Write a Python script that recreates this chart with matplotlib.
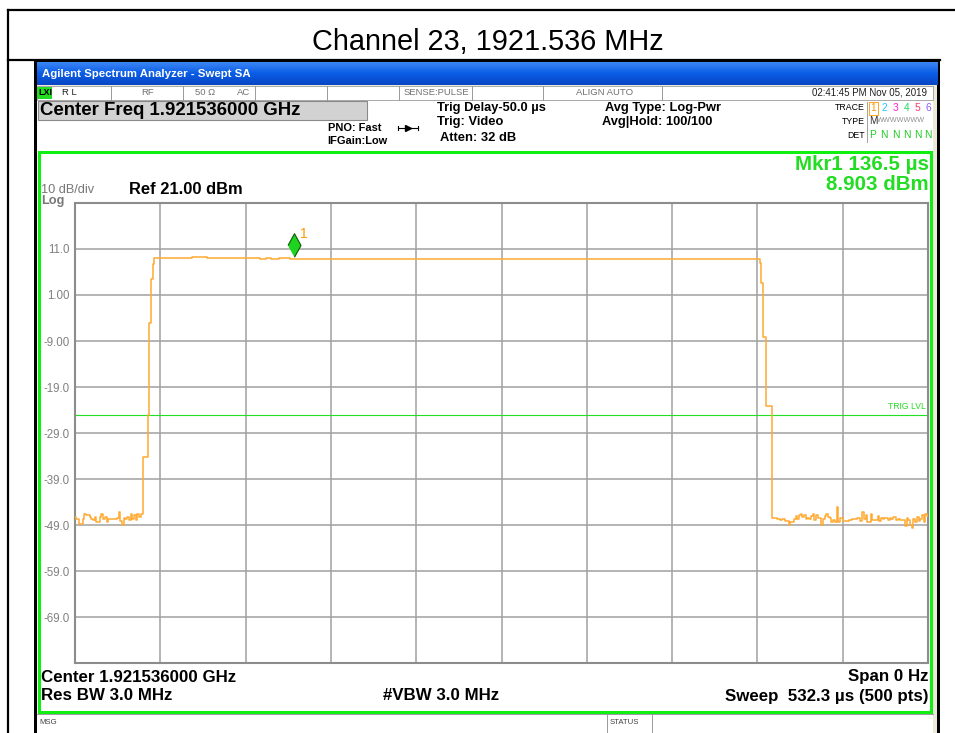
import numpy as np
import matplotlib.pyplot as plt
import matplotlib.transforms as mtransforms
from matplotlib.patches import Rectangle
from matplotlib.colors import LinearSegmentedColormap

plt.rcParams['font.family'] = ['Liberation Sans', 'DejaVu Sans']

# analyzer settings
sweep_time = 532.3      # us
n_points = 500
ref_level = 21.0
db_per_div = 10.0
trig_level = -25.1
marker_time = 136.5
marker_level = 8.903

y_tick_labels = ["", "11.0", "1.00", "-9.00", "-19.0", "-29.0", "-39.0",
                 "-49.0", "-59.0", "-69.0", ""]

# trace readings (dBm), left to right
noise_left = [-47.2, -47.7, -47.7, -48.7, -48.7, -47.6, -46.5, -46.8, -46.8, -47.2,
              -47.6, -47.9, -47.3, -48.3, -48.3, -47.2, -46.6, -47.6, -47.2, -48.3,
              -47.7, -47.7, -47.6, -47.7, -47.7, -47.4, -46.2, -48.1, -48.9, -47.4,
              -47.7, -47.2, -47.9, -46.7, -47.6, -46.8, -47.9, -46.6, -47.2, -46.5]
rise_edge = [-34.3, -34.3, -34.3, -25.0, -5.1, 4.5, 7.7]
top_runs = [(22, 9.15), (9, 9.25), (31, 9.05), (3, 8.85), (3, 9.0), (5, 8.85),
            (6, 8.95), (6, 8.9), (269, 8.75)]   # (points, level)
fall_edge = [8.0, 3.5, -8.1, -8.1, -23.1, -23.1, -23.1]
noise_right = [-47.4, -47.4, -47.4, -47.7, -47.7, -47.9, -47.7, -47.7, -48.1, -48.1,
               -48.9, -48.3, -48.3, -47.7, -47.0, -47.7, -46.8, -46.5, -47.2, -46.8,
               -47.6, -47.4, -47.7, -47.0, -46.5, -47.9, -46.8, -47.4, -47.4, -49.0,
               -47.6, -47.0, -46.7, -47.3, -47.4, -48.3, -47.9, -48.3, -45.0, -48.3,
               -47.4, -47.4, -48.1, -48.1, -48.1, -47.9, -47.9,
               -47.7, -47.7, -47.7, -47.4, -47.4, -48.1, -46.2, -47.6, -46.8, -48.3,
               -48.3, -46.5, -47.9, -47.9, -47.9, -47.0, -48.1, -47.4, -47.7, -47.4,
               -47.4, -47.9, -47.4, -47.6, -47.2, -47.2, -47.9, -47.6, -47.9, -47.9,
               -47.9, -49.2, -47.4, -47.9, -48.9, -49.6, -47.7, -48.3, -47.2, -48.1,
               -47.7, -46.8, -48.3, -46.5, -47.0]

top_flat = []
for n, lvl in top_runs:
    top_flat += [lvl] * n
trace = np.array(noise_left + rise_edge + top_flat + fall_edge + noise_right)
t = np.linspace(0, sweep_time, len(trace))

W, H = 955, 733
fig = plt.figure(figsize=(W / 100, H / 100), dpi=100)
fig.patch.set_facecolor('white')

# pixel overlay for the instrument screen
ov = fig.add_axes([0, 0, 1, 1])
ov.set_xlim(0, W)
ov.set_ylim(H, 0)
ov.axis('off')

def rect(x0, y0, x1, y1, fc='none', ec='none', lw=0, z=1):
    ov.add_patch(Rectangle((x0, y0), x1 - x0, y1 - y0, facecolor=fc,
                           edgecolor=ec, linewidth=lw, zorder=z))

def txt(x, y, s, size, ha='left', color='black', weight='normal', z=5):
    ov.text(x, y, s, fontsize=size, ha=ha, va='center', color=color,
            fontweight=weight, zorder=z)

# document table lines
ov.plot([8, W], [10, 10], color='black', lw=1.6)
ov.plot([8, 8], [10, H], color='black', lw=1.6)
ov.plot([8, 940], [59.5, 59.5], color='black', lw=1.6)
txt(488, 42, "Channel 23, 1921.536 MHz", 20.8, ha='center')

# window frame
rect(34, 59, 940, H, fc='black', z=1)
rect(37, 62, 937, H, fc='#ECE9D8', z=1.1)
rect(37, 86, 933, H, fc='white', z=1.2)

# blue title bar
blue = LinearSegmentedColormap.from_list('xp', ['#3C86F4', '#0A5CE6', '#0846C4'])
ov.imshow(np.linspace(0, 1, 40)[:, None], extent=(37, 937, 85, 62), aspect='auto',
          cmap=blue, zorder=1.3)
txt(42, 74, "Agilent Spectrum Analyzer - Swept SA", 8.2, color='white', weight='bold')

# status row
rect(37, 86, 933, 99.5, fc='white', ec='#9A9A9A', lw=0.6, z=1.4)
for xs in [111, 183, 255, 327, 399, 472, 543, 662]:
    ov.plot([xs, xs], [86, 99.5], color='#9A9A9A', lw=0.7, zorder=1.5)
rect(37, 86.5, 52, 99, fc='#22DD22', z=1.5)
txt(38, 92.8, "LXI", 6.5, weight='bold', color='black')
txt(62, 92.8, "R L", 6.8, color='#202020')
txt(148, 92.8, "RF", 6.8, ha='center', color='#707070')
txt(195, 92.8, "50 Ω", 6.8, color='#707070')
txt(237, 92.8, "AC", 6.8, color='#707070')
txt(436, 92.8, "SENSE:PULSE", 6.8, ha='center', color='#707070')
txt(605, 92.8, "ALIGN AUTO", 6.8, ha='center', color='#707070')
txt(927, 92.8, "02:41:45 PM Nov 05, 2019", 7.0, ha='right', color='#202020')

# settings block
rect(38, 101, 367, 120, fc='#D2D2D2', ec='#8A8A8A', lw=0.8, z=1.5)
txt(40, 110.5, "Center Freq 1.921536000 GHz", 13.4, weight='bold')
txt(381, 128, "PNO: Fast", 7.9, ha='right', weight='bold')
txt(387, 141, "IFGain:Low", 7.9, ha='right', weight='bold')
ov.plot([398, 418], [127.5, 127.5], color='black', lw=0.8, zorder=5)
ov.plot([408], [127.5], marker='>', color='black', ms=4, zorder=5)
ov.plot([398, 398], [125.5, 129.5], color='black', lw=0.8, zorder=5)
ov.plot([418, 418], [125.5, 129.5], color='black', lw=0.8, zorder=5)
txt(437, 108, "Trig Delay-50.0 µs", 9.3, weight='bold')
txt(437, 122, "Trig: Video", 9.3, weight='bold')
txt(440, 138, "Atten: 32 dB", 9.3, weight='bold')
txt(605, 108, "Avg Type: Log-Pwr", 9.3, weight='bold')
txt(602, 122, "Avg|Hold: 100/100", 9.3, weight='bold')

# trace legend panel
txt(865, 107, "TRACE", 6.3, ha='right')
txt(865, 121, "TYPE", 6.3, ha='right')
txt(865, 135, "DET", 6.3, ha='right')
ov.plot([867, 867], [102, 142], color='#A0A0A0', lw=0.7, zorder=5)
trace_nums = ["1", "2", "3", "4", "5", "6"]
trace_cols = ['#FF9900', '#22C8FF', '#FF22CC', '#22DD66', '#FF3C6E', '#8A5CFF']
det_marks = ["P", "N", "N", "N", "N", "N"]
num_x = [873, 884, 895.5, 906.5, 917.5, 928]
for xs, s, c, d in zip(num_x, trace_nums, trace_cols, det_marks):
    txt(xs, 108, s, 7.4, ha='center', color=c)
    txt(xs, 135, d, 7.4, ha='center', color='#22CC22')
rect(868.5, 101.5, 877.5, 114.5, ec='#FF9900', lw=0.6, z=5)
txt(869, 121, "M", 7.2, color='#303030')
txt(877, 121, "WWWWWWW", 5.2, color='#909090')

# measurement area frame
rect(39, 152, 931, 712, ec='#11EE11', lw=2.2, z=4)
txt(929, 164, "Mkr1 136.5 µs", 14.8, ha='right', color='#22DD22', weight='bold')
txt(929, 185, "8.903 dBm", 14.8, ha='right', color='#22DD22', weight='bold')
txt(41, 190, "10 dB/div", 9.2, color='#777777')
txt(41, 201, "Log", 9.2, color='#777777', weight='bold')
txt(129, 189, "Ref 21.00 dBm", 11.9, weight='bold')
txt(41, 677, "Center 1.921536000 GHz", 12.2, weight='bold')
txt(41, 696, "Res BW 3.0 MHz", 12.2, weight='bold')
txt(383, 696, "#VBW 3.0 MHz", 12.2, weight='bold')
txt(928, 677, "Span 0 Hz", 12.2, ha='right', weight='bold')
txt(928, 696, "Sweep  532.3 µs (500 pts)", 12.2, ha='right', weight='bold')

# message bar
ov.plot([37, 933], [714, 714], color='#9A9A9A', lw=0.7, zorder=5)
for xs in [607, 652]:
    ov.plot([xs, xs], [714, H], color='#9A9A9A', lw=0.7, zorder=5)
txt(39, 723, "MSG", 5.6, color='#404040')
txt(610, 723, "STATUS", 5.6, color='#404040')

# the trace graticule
ax = fig.add_axes([75 / W, (H - 663) / H, 853 / W, 460 / H])
ax.set_facecolor('white')
ax.set_xlim(0, sweep_time)
ax.set_ylim(ref_level - 10 * db_per_div, ref_level)
ax.set_xticks(np.linspace(0, sweep_time, 11))
ax.set_xticklabels([])
y_ticks = ref_level - db_per_div * np.arange(11)
ax.set_yticks(y_ticks)
ax.set_yticklabels(y_tick_labels, color='#808080', fontsize=8.3)
ax.tick_params(length=0, pad=4)
ax.grid(True, color='#A0A0A0', lw=1.1)
for sp in ax.spines.values():
    sp.set_color('#8C8C8C')
    sp.set_linewidth(1.5)

ax.axhline(trig_level, color='#22E022', lw=0.8, zorder=2)
ax.text(sweep_time - 1.5, trig_level + 0.9, "TRIG LVL", color='#22DD22', fontsize=6.2,
        ha='right', va='bottom')

ax.plot(t, trace, drawstyle='steps-mid', color='#FFAA33', lw=1.1, zorder=3)

# marker 1
mk_off = mtransforms.offset_copy(ax.transData, fig=fig, x=0, y=9.5, units='points')
ax.plot([marker_time], [marker_level], transform=mk_off, linestyle='none',
        marker=[(-0.55, 0), (0, 1), (0.55, 0), (0, -1)], ms=17,
        mfc='#1ED41E', mec='#0A5A0A', mew=0.8, zorder=4, clip_on=False)
lbl_off = mtransforms.offset_copy(ax.transData, fig=fig, x=7.5, y=17.5, units='points')
ax.text(marker_time, marker_level, "1", transform=lbl_off, color='#FF9900',
        fontsize=10, ha='center', va='center')

fig.savefig('out.png', dpi=100, facecolor='white')
